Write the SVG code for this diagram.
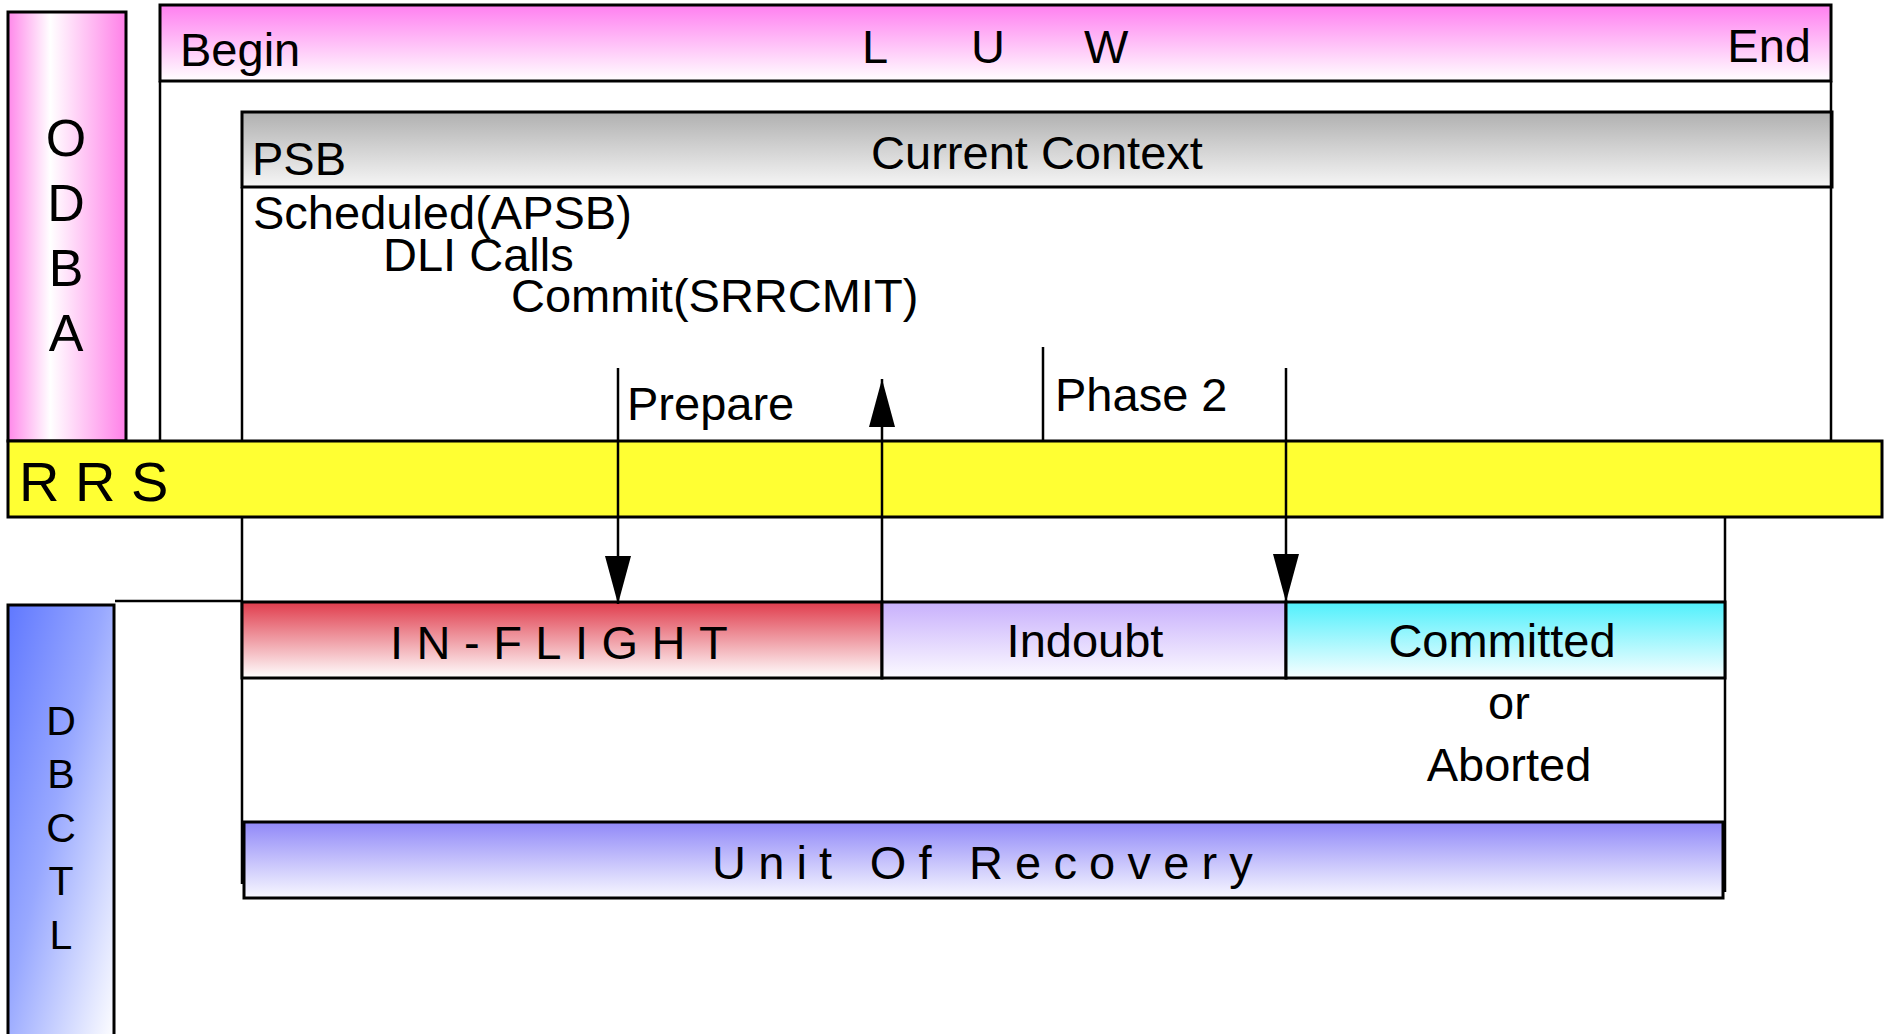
<svg xmlns="http://www.w3.org/2000/svg" width="1889" height="1034" viewBox="0 0 1889 1034">
<style>
text{font-family:"Liberation Sans",Arial,sans-serif;fill:#000;}
.box{stroke:#000;stroke-width:3;}
.ln{stroke:#000;stroke-width:2.5;fill:none;}
.t47{font-size:47px;}
.mid{text-anchor:middle;}
</style>
<defs>
<linearGradient id="gPinkV" x1="0" y1="0" x2="0" y2="1"><stop offset="0" stop-color="#ff7ff0"/><stop offset="1" stop-color="#ffffff"/></linearGradient>
<linearGradient id="gPinkH" x1="0" y1="0" x2="1" y2="0"><stop offset="0" stop-color="#ff88ea"/><stop offset="0.36" stop-color="#ffffff"/><stop offset="1" stop-color="#ff80e8"/></linearGradient>
<linearGradient id="gGray" x1="0" y1="0" x2="0" y2="1"><stop offset="0" stop-color="#b0b0b0"/><stop offset="1" stop-color="#f6f6f6"/></linearGradient>
<linearGradient id="gRed" x1="0" y1="0" x2="0" y2="1"><stop offset="0" stop-color="#e03c4c"/><stop offset="1" stop-color="#ffffff"/></linearGradient>
<linearGradient id="gPurple" x1="0" y1="0" x2="0" y2="1"><stop offset="0" stop-color="#c8b0fc"/><stop offset="1" stop-color="#fcfaff"/></linearGradient>
<linearGradient id="gCyan" x1="0" y1="0" x2="0" y2="1"><stop offset="0" stop-color="#50f0fc"/><stop offset="1" stop-color="#f8feff"/></linearGradient>
<linearGradient id="gUor" x1="0" y1="0" x2="0" y2="1"><stop offset="0" stop-color="#9088f8"/><stop offset="1" stop-color="#f8f8ff"/></linearGradient>
<linearGradient id="gBlue" x1="0" y1="0" x2="1" y2="1"><stop offset="0" stop-color="#6078ff"/><stop offset="0.45" stop-color="#98a8ff"/><stop offset="1" stop-color="#ffffff"/></linearGradient>
<marker id="ah" markerUnits="userSpaceOnUse" markerWidth="48" markerHeight="26" viewBox="0 0 48 26" refX="48" refY="13" orient="auto">
<path d="M0,0 L48,13 L0,26 Z" fill="#000"/>
</marker>
</defs>

<g id="odba">
<rect class="box" x="8" y="12" width="118" height="429" fill="url(#gPinkH)"/>
<text x="66" y="156" font-size="52" class="mid">O</text>
<text x="66" y="221" font-size="52" class="mid">D</text>
<text x="66" y="286" font-size="52" class="mid">B</text>
<text x="66" y="351" font-size="52" class="mid">A</text>
</g>

<g id="luw">
<rect class="box" x="160" y="5" width="1671" height="76" fill="url(#gPinkV)"/>
<text class="t47" x="180" y="66">Begin</text>
<text class="t47" y="63"><tspan x="862">L</tspan><tspan x="971">U</tspan><tspan x="1084">W</tspan></text>
<text class="t47" x="1811" y="62" text-anchor="end">End</text>
</g>

<g id="context">
<rect class="box" x="242" y="112" width="1590" height="75" fill="url(#gGray)"/>
<text class="t47" x="252" y="175">PSB</text>
<text class="t47" x="1037" y="169" text-anchor="middle">Current Context</text>
</g>

<g id="calls">
<text class="t47" x="253" y="229">Scheduled(APSB)</text>
<text class="t47" x="383" y="271">DLI Calls</text>
<text class="t47" x="511" y="312">Commit(SRRCMIT)</text>
</g>

<g id="frame-lines">
<line class="ln" x1="160" y1="81" x2="160" y2="444"/>
<line class="ln" x1="1831" y1="81" x2="1831" y2="441"/>
<line class="ln" x1="242" y1="187" x2="242" y2="441"/>
<line class="ln" x1="242" y1="517" x2="242" y2="884"/>
<line class="ln" x1="1725" y1="512" x2="1725" y2="892"/>
<line class="ln" x1="115" y1="601" x2="242" y2="601"/>
</g>

<g id="rrs">
<rect class="box" x="8" y="441" width="1874" height="76" fill="#ffff33"/>
<text x="19" y="501" font-size="56">R R S</text>
</g>

<g id="dbctl">
<rect class="box" x="8" y="605" width="106" height="440" fill="url(#gBlue)"/>
<text x="61" y="735" font-size="41" class="mid">D</text>
<text x="61" y="788" font-size="41" class="mid">B</text>
<text x="61" y="842" font-size="41" class="mid">C</text>
<text x="61" y="895" font-size="41" class="mid">T</text>
<text x="61" y="949" font-size="41" class="mid">L</text>
</g>

<g id="inflight">
<rect class="box" x="242" y="602" width="640" height="76" fill="url(#gRed)"/>
<text class="t47" x="390" y="659" letter-spacing="13.5">IN-FLIGHT</text>
</g>

<g id="indoubt">
<rect class="box" x="882" y="602" width="404" height="76" fill="url(#gPurple)"/>
<text class="t47 mid" x="1085" y="657">Indoubt</text>
</g>

<g id="committed">
<rect class="box" x="1286" y="602" width="439" height="76" fill="url(#gCyan)"/>
<text class="t47 mid" x="1502" y="657">Committed</text>
<text class="t47 mid" x="1509" y="719">or</text>
<text class="t47 mid" x="1509" y="781">Aborted</text>
</g>

<g id="uor">
<rect class="box" x="244" y="822" width="1479" height="76" fill="url(#gUor)"/>
<text class="t47" x="712" y="879" letter-spacing="12.2">Unit Of Recovery</text>
</g>

<g id="connectors">
<line class="ln" x1="618" y1="368" x2="618" y2="604" marker-end="url(#ah)"/>
<text class="t47" x="627" y="420">Prepare</text>
<line class="ln" x1="882" y1="602" x2="882" y2="379" marker-end="url(#ah)"/>
<line class="ln" x1="1043" y1="347" x2="1043" y2="441"/>
<text class="t47" x="1055" y="411">Phase 2</text>
<line class="ln" x1="1286" y1="368" x2="1286" y2="602" marker-end="url(#ah)"/>
</g>
</svg>
